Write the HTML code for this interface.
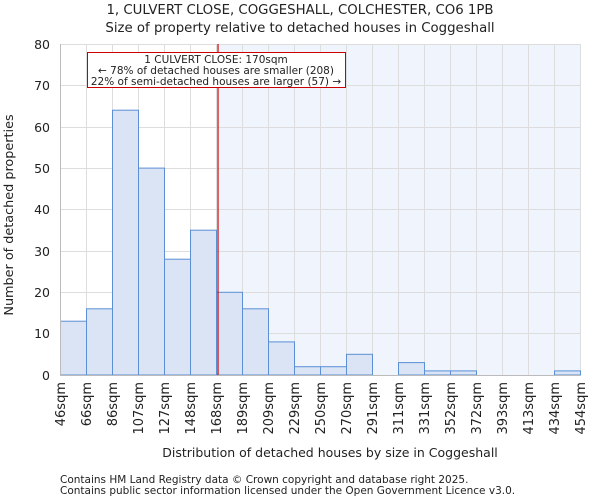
<!DOCTYPE html>
<html><head><meta charset="utf-8"><style>body{margin:0;background:#fff}svg{display:block}text{font-family:"DejaVu Sans","Liberation Sans",sans-serif;fill:#222}</style></head><body>
<svg width="600" height="500" xmlns="http://www.w3.org/2000/svg">
<text x="300" y="14" font-size="13.3" text-anchor="middle">1, CULVERT CLOSE, COGGESHALL, COLCHESTER, CO6 1PB</text>
<text x="300" y="32" font-size="13.3" text-anchor="middle">Size of property relative to detached houses in Coggeshall</text>
<rect x="218" y="44" width="362" height="331" fill="#f0f4fc"/>
<g stroke="#ddd" stroke-width="1">
<line x1="61" x2="580" y1="44.5" y2="44.5"/><line x1="61" x2="580" y1="85.5" y2="85.5"/><line x1="61" x2="580" y1="127.5" y2="127.5"/><line x1="61" x2="580" y1="168.5" y2="168.5"/><line x1="61" x2="580" y1="209.5" y2="209.5"/><line x1="61" x2="580" y1="251.5" y2="251.5"/><line x1="61" x2="580" y1="292.5" y2="292.5"/><line x1="61" x2="580" y1="333.5" y2="333.5"/>
<line x1="86.5" x2="86.5" y1="44" y2="375"/><line x1="112.5" x2="112.5" y1="44" y2="375"/><line x1="138.5" x2="138.5" y1="44" y2="375"/><line x1="164.5" x2="164.5" y1="44" y2="375"/><line x1="190.5" x2="190.5" y1="44" y2="375"/><line x1="216.5" x2="216.5" y1="44" y2="375"/><line x1="242.5" x2="242.5" y1="44" y2="375"/><line x1="268.5" x2="268.5" y1="44" y2="375"/><line x1="294.5" x2="294.5" y1="44" y2="375"/><line x1="320.5" x2="320.5" y1="44" y2="375"/><line x1="346.5" x2="346.5" y1="44" y2="375"/><line x1="372.5" x2="372.5" y1="44" y2="375"/><line x1="398.5" x2="398.5" y1="44" y2="375"/><line x1="424.5" x2="424.5" y1="44" y2="375"/><line x1="450.5" x2="450.5" y1="44" y2="375"/><line x1="476.5" x2="476.5" y1="44" y2="375"/><line x1="502.5" x2="502.5" y1="44" y2="375"/><line x1="528.5" x2="528.5" y1="44" y2="375"/><line x1="554.5" x2="554.5" y1="44" y2="375"/><line x1="580.5" x2="580.5" y1="44" y2="375"/>
</g>
<g fill="#dae4f4" stroke="#5b8fd6" stroke-width="1">
<rect x="60.5" y="321.2" width="26" height="53.8"/>
<rect x="86.5" y="308.8" width="26" height="66.2"/>
<rect x="112.5" y="110.2" width="26" height="264.8"/>
<rect x="138.5" y="168.1" width="26" height="206.9"/>
<rect x="164.5" y="259.2" width="26" height="115.8"/>
<rect x="190.5" y="230.2" width="26" height="144.8"/>
<rect x="216.5" y="292.3" width="26" height="82.7"/>
<rect x="242.5" y="308.8" width="26" height="66.2"/>
<rect x="268.5" y="341.9" width="26" height="33.1"/>
<rect x="294.5" y="366.7" width="26" height="8.3"/>
<rect x="320.5" y="366.7" width="26" height="8.3"/>
<rect x="346.5" y="354.3" width="26" height="20.7"/>
<rect x="398.5" y="362.6" width="26" height="12.4"/>
<rect x="424.5" y="370.9" width="26" height="4.1"/>
<rect x="450.5" y="370.9" width="26" height="4.1"/>
<rect x="554.5" y="370.9" width="26" height="4.1"/>
</g>
<line x1="60.5" x2="60.5" y1="44" y2="375" stroke="#bbb"/>
<line x1="60" x2="580" y1="375.5" y2="375.5" stroke="#bbb"/>
<line x1="218" x2="218" y1="44" y2="375" stroke="#cc0000" stroke-width="1.2"/>
<rect x="87.5" y="52.5" width="258" height="35" fill="#fff" stroke="#cc0000"/>
<text x="216" y="63" font-size="10.5" text-anchor="middle">1 CULVERT CLOSE: 170sqm</text>
<text x="216" y="74" font-size="10.5" text-anchor="middle">← 78% of detached houses are smaller (208)</text>
<text x="216" y="85" font-size="10.5" text-anchor="middle">22% of semi-detached houses are larger (57) →</text>
<g font-size="12.5" text-anchor="end">
<text x="50" y="49">80</text><text x="50" y="90">70</text><text x="50" y="132">60</text><text x="50" y="173">50</text><text x="50" y="214">40</text><text x="50" y="256">30</text><text x="50" y="297">20</text><text x="50" y="338">10</text><text x="50" y="380">0</text>
</g>
<text transform="translate(13,215) rotate(-90)" font-size="12.8" text-anchor="middle">Number of detached properties</text>
<g font-size="13" text-anchor="end">
<text transform="translate(65,382) rotate(-90)">46sqm</text><text transform="translate(91,382) rotate(-90)">66sqm</text><text transform="translate(117,382) rotate(-90)">86sqm</text><text transform="translate(143,382) rotate(-90)">107sqm</text><text transform="translate(169,382) rotate(-90)">127sqm</text><text transform="translate(195,382) rotate(-90)">148sqm</text><text transform="translate(221,382) rotate(-90)">168sqm</text><text transform="translate(247,382) rotate(-90)">189sqm</text><text transform="translate(273,382) rotate(-90)">209sqm</text><text transform="translate(299,382) rotate(-90)">229sqm</text><text transform="translate(325,382) rotate(-90)">250sqm</text><text transform="translate(351,382) rotate(-90)">270sqm</text><text transform="translate(377,382) rotate(-90)">291sqm</text><text transform="translate(403,382) rotate(-90)">311sqm</text><text transform="translate(429,382) rotate(-90)">331sqm</text><text transform="translate(455,382) rotate(-90)">352sqm</text><text transform="translate(481,382) rotate(-90)">372sqm</text><text transform="translate(507,382) rotate(-90)">393sqm</text><text transform="translate(533,382) rotate(-90)">413sqm</text><text transform="translate(559,382) rotate(-90)">434sqm</text><text transform="translate(585,382) rotate(-90)">454sqm</text>
</g>
<text x="330" y="457" font-size="12.5" text-anchor="middle">Distribution of detached houses by size in Coggeshall</text>
<text x="60" y="483" font-size="10.5">Contains HM Land Registry data © Crown copyright and database right 2025.</text>
<text x="60" y="494" font-size="10.5">Contains public sector information licensed under the Open Government Licence v3.0.</text>
</svg>
</body></html>
